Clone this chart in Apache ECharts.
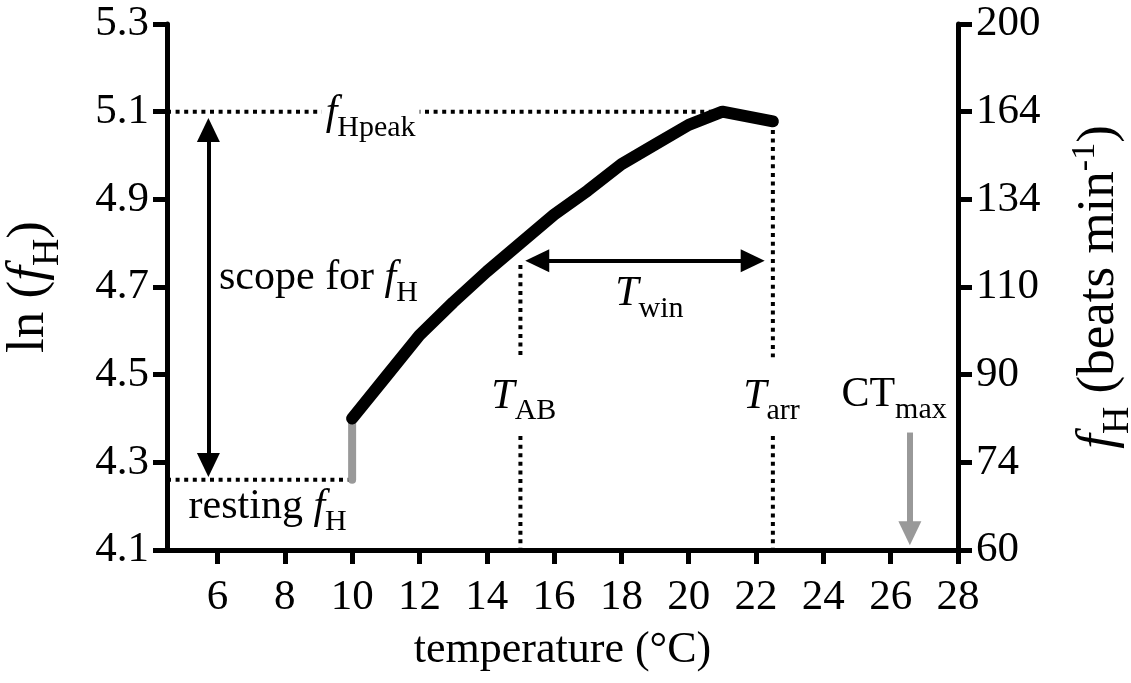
<!DOCTYPE html>
<html>
<head>
<meta charset="utf-8">
<script src="https://cdn.jsdelivr.net/npm/echarts@6/dist/echarts.min.js"></script>
<style>
  html, body { margin: 0; padding: 0; background: #fff; }
  #main { width: 1131px; height: 683px; }
</style>
</head>
<body>
<div id="main"></div>
<script>
// heart rate curve (ln fH against temperature)
var temps = [10, 11, 12, 13, 14, 15, 16, 17, 18, 19, 20, 21, 22.5];
var lnFH = [4.40, 4.495, 4.59, 4.665, 4.735, 4.80, 4.865, 4.92, 4.98, 5.025, 5.07, 5.10, 5.078];

// axis ticks
var xTicks = [6, 8, 10, 12, 14, 16, 18, 20, 22, 24, 26, 28];
var yTicks = [4.1, 4.3, 4.5, 4.7, 4.9, 5.1, 5.3];
var rightLabels = ['60', '74', '90', '110', '134', '164', '200'];

// reference values
var restTemp = 10, restLn = 4.26;
var peakTemp = 21, peakLn = 5.1;
var tAB = 15, tArr = 22.5, ctMax = 26.57;

// dotted guide lines [[x1,y1],[x2,y2]]
var peakGuide = [[4.5, peakLn], [peakTemp, peakLn]];
var restGuide = [[4.5, restLn], [restTemp, restLn]];
var abGuideTop = [[tAB, 4.75], [tAB, 4.54]];
var abGuideLow = [[tAB, 4.36], [tAB, 4.1]];
var arrGuideTop = [[tArr, 5.078], [tArr, 4.54]];
var arrGuideLow = [[tArr, 4.36], [tArr, 4.1]];
var restStep = [[restTemp, restLn], [restTemp, 4.40]];

// arrows
var scopeArrow = [[5.73, 5.058], [5.73, 4.294]];
var winArrow = [[15.5, 4.76], [21.9, 4.76]];
var ctArrow = [[ctMax, 4.368], [ctMax, 4.138]];

// text labels
var labelPos = {
  peak: [10.55, 5.086],
  scope: [9.0, 4.71],
  rest: [7.49, 4.188],
  win: [18.83, 4.674],
  ab: [15.1, 4.44],
  arr: [22.46, 4.44],
  ct: [26.1, 4.443]
};

var FONT = 'Liberation Serif';
var rich = {
  it: { fontFamily: FONT, fontStyle: 'italic', fontSize: 42, color: '#000', padding: [0, 0, 9, 0], verticalAlign: 'bottom' },
  rm: { fontFamily: FONT, fontSize: 42, color: '#000', padding: [0, 0, 9, 0], verticalAlign: 'bottom' },
  sub: { fontFamily: FONT, fontSize: 30, color: '#000', verticalAlign: 'bottom' },
  sup: { fontFamily: FONT, fontSize: 27, color: '#000', padding: [0, 0, 28, 0], verticalAlign: 'bottom' }
};
// larger set for the rotated axis titles
var richBig = {
  it: { fontFamily: FONT, fontStyle: 'italic', fontSize: 53, color: '#000', padding: [0, 0, 11, 0], verticalAlign: 'bottom' },
  rm: { fontFamily: FONT, fontSize: 53, color: '#000', padding: [0, 0, 11, 0], verticalAlign: 'bottom' },
  sub: { fontFamily: FONT, fontSize: 38, color: '#000', verticalAlign: 'bottom' },
  sup: { fontFamily: FONT, fontSize: 34, color: '#000', padding: [0, 0, 35, 0], verticalAlign: 'bottom' }
};

function dotted(data) {
  return {
    type: 'line', data: data, symbol: 'none', silent: true, z: 2,
    lineStyle: { color: '#000', width: 4, type: [4, 4.6] }
  };
}

function arrow(data, color, width, symbols) {
  return {
    type: 'line', data: [], silent: true, z: 4,
    markLine: {
      silent: true, animation: false,
      symbol: symbols, symbolSize: [23, 24],
      label: { show: false },
      lineStyle: { color: color, width: width, type: 'solid', opacity: 1 },
      itemStyle: { color: color },
      emphasis: { disabled: true },
      data: [[{ coord: data[0] }, { coord: data[1] }]]
    }
  };
}

function textItem(pos, text, bg) {
  return {
    value: pos,
    label: {
      show: true, position: 'inside', formatter: text, rich: rich, color: '#000',
      textBorderWidth: 0, opacity: 1,
      backgroundColor: bg ? '#fff' : 'transparent', padding: bg ? [0, 4] : 0
    }
  };
}

var dom = document.getElementById('main');
var myChart = echarts.init(dom);
var option = {
  animation: false,
  grid: { left: 167, right: 173, top: 24, bottom: 133, containLabel: false, outerBoundsMode: 'none' },
  xAxis: {
    type: 'value', min: 4.5, max: 28,
    name: 'temperature (°C)', nameLocation: 'middle', nameGap: 78,
    nameTextStyle: { fontFamily: FONT, fontSize: 44, color: '#000' },
    axisLine: { onZero: false, lineStyle: { color: '#000', width: 5 } },
    axisTick: { customValues: xTicks, length: 14, lineStyle: { color: '#000', width: 5 } },
    axisLabel: { customValues: xTicks, fontFamily: FONT, fontSize: 43, color: '#000', margin: 26 },
    splitLine: { show: false }
  },
  yAxis: [{
    type: 'value', min: 4.1, max: 5.3, position: 'left',
    name: '{rm|ln (}{it|f}{sub|H}{rm|)}', nameLocation: 'middle', nameGap: 100, nameRotate: 90,
    nameTextStyle: { rich: richBig },
    axisLine: { onZero: false, lineStyle: { color: '#000', width: 5 } },
    axisTick: { customValues: yTicks, length: 14, lineStyle: { color: '#000', width: 5 } },
    axisLabel: {
      customValues: yTicks, fontFamily: FONT, fontSize: 43, color: '#000', margin: 18,
      formatter: function (v) { return v.toFixed(1); }
    },
    splitLine: { show: false }
  }, {
    type: 'value', min: 4.1, max: 5.3, position: 'right',
    name: '{it|f}{sub|H}{rm| (beats min}{sup|-1}{rm|)}', nameLocation: 'middle', nameGap: 110, nameRotate: 90,
    nameTextStyle: { rich: richBig },
    axisLine: { onZero: false, lineStyle: { color: '#000', width: 5 } },
    axisTick: { customValues: yTicks, length: 14, lineStyle: { color: '#000', width: 5 } },
    axisLabel: {
      customValues: yTicks, fontFamily: FONT, fontSize: 43, color: '#000', margin: 18,
      formatter: function (v) { return rightLabels[Math.round((v - 4.1) / 0.2)]; }
    },
    splitLine: { show: false }
  }],
  series: [
    dotted(peakGuide),
    dotted(restGuide),
    dotted(abGuideTop),
    dotted(abGuideLow),
    dotted(arrGuideTop),
    dotted(arrGuideLow),
    {
      type: 'line', data: restStep, symbol: 'none', silent: true, z: 3,
      lineStyle: { color: '#999999', width: 8, cap: 'round' }
    },
    {
      type: 'line', symbol: 'none', silent: true, z: 3,
      data: temps.map(function (t, i) { return [t, lnFH[i]]; }),
      lineStyle: { color: '#000', width: 12, cap: 'round', join: 'round' }
    },
    arrow(scopeArrow, '#000', 4, ['triangle', 'triangle']),
    arrow(winArrow, '#000', 4, ['triangle', 'triangle']),
    arrow(ctArrow, '#999999', 6, ['none', 'triangle']),
    {
      type: 'scatter', symbolSize: 0, silent: true, z: 5,
      itemStyle: { opacity: 1, color: '#000' },
      data: [
        textItem(labelPos.peak, '{it|f}{sub|Hpeak}', true),
        textItem(labelPos.scope, '{rm|scope for }{it|f}{sub|H}'),
        textItem(labelPos.rest, '{rm|resting }{it|f}{sub|H}'),
        textItem(labelPos.win, '{it|T}{sub|win}'),
        textItem(labelPos.ab, '{it|T}{sub|AB}'),
        textItem(labelPos.arr, '{it|T}{sub|arr}'),
        textItem(labelPos.ct, '{rm|CT}{sub|max}')
      ]
    }
  ]
};
if (option && typeof option === 'object') {
  myChart.setOption(option, true);
}
window.addEventListener('resize', function () {
  myChart.resize();
});
</script>
</body>
</html>
